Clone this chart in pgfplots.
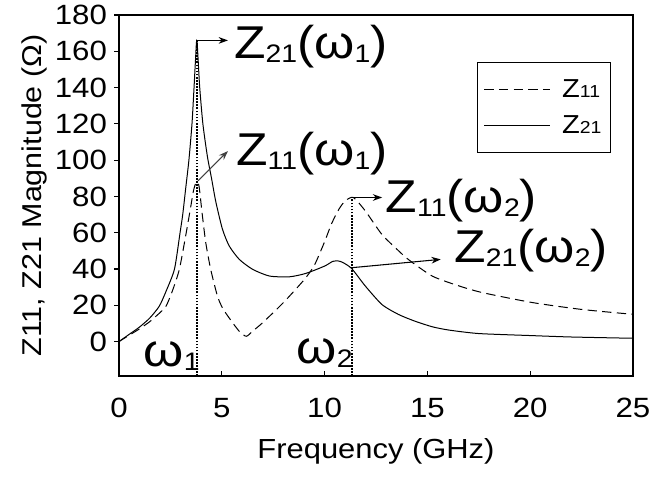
\documentclass[border=0pt]{standalone}
\usepackage{fontspec}
\setmainfont[FakeStretch=1.12]{Liberation Sans}
\usepackage{pgfplots}
\pgfplotsset{compat=1.18}
\usetikzlibrary{arrows.meta}

% annotation text: big letter with a lowered, smaller index
\newcommand\ann[1]{{\fontsize{34.5}{40}\selectfont #1}}
\newcommand\sub[1]{\raisebox{-3pt}{\fontsize{19}{20}\selectfont #1}}
\newcommand\legz[1]{{\fontsize{19.5}{20}\selectfont Z}{\fontsize{13}{14}\selectfont #1}}

\begin{document}
\begin{tikzpicture}
\useasboundingbox (-89.25pt,-77.25pt) rectangle (399pt,282pt);
\begin{axis}[
    at={(0,0)}, anchor=south west,
    scale only axis,
    width=385.5pt, height=270.75pt,
    xmin=0, xmax=25, ymin=-19, ymax=180,
    xtick={0,5,...,25}, ytick={0,20,...,180},
    xtick pos=bottom, ytick pos=left,
    xtick align=inside, ytick align=outside,
    major tick length=3.5pt,
    axis line style={line width=1pt},
    tick style={line width=0.8pt, black},
    ticklabel style={font=\fontsize{20.9}{22}\selectfont},
    /pgf/number format/assume math mode=true,
    xticklabel style={yshift=-13pt},
    yticklabel style={xshift=-2pt},
    xlabel={Frequency (GHz)},
    ylabel={Z11, Z21 Magnitude (Ω)},
    label style={font=\fontsize{20.7}{22}\selectfont},
    ylabel style={font=\fontsize{20.4}{22}\selectfont, at={(axis description cs:-0.165,0.5)}, anchor=center},
    xlabel style={at={(axis description cs:0.5,-0.21)}, anchor=center},
    legend style={at={(rel axis cs:0.958,0.871)}, anchor=north east,
        draw=black, line width=0.8pt, inner xsep=5pt, inner ysep=11pt,
        row sep=8pt, nodes={inner sep=2pt},
        /tikz/every odd column/.append style={column sep=7pt}},
    legend cell align=left,
    legend image code/.code={\draw[#1] (0pt,0pt) -- (49pt,0pt);},
]
% Z11
\addplot[black, line width=0.75pt, dash pattern=on 7pt off 4pt, smooth, tension=0.4] coordinates {
(0,0) (0.5,3.5) (1,7) (1.5,11) (2,16) (2.29,19.5) (2.6,28) (2.94,40) (3.27,60)
(3.5,75) (3.62,83) (3.76,88) (3.89,85.8) (4.05,70) (4.22,54.5) (4.46,39.8)
(4.79,25) (5.06,18) (5.55,10) (5.9,5) (6.2,2.9) (6.5,5.7) (7,10.5) (8,21.5)
(9,34) (9.5,42) (10,55) (10.34,65) (10.7,73) (11,77.5) (11.4,79.4) (11.98,72)
(12.79,59) (13.6,50) (14.1,45) (15.25,36) (16.55,30.6) (17.7,26.9) (20.1,21.5)
(22.5,17.7) (25,15)
};
\addlegendentry{\legz{11}\hspace{5pt}}
% Z21
\addplot[black, line width=0.75pt, smooth, tension=0.4] coordinates {
(0,0) (0.5,4) (1,8) (1.5,13) (1.96,19.5) (2.3,28) (2.7,40) (2.97,60) (3.1,70)
(3.25,85) (3.4,100) (3.55,120) (3.65,140) (3.72,155) (3.79,166) (3.92,141)
(4.08,120) (4.3,102) (4.5,90) (4.71,77) (5.03,62) (5.36,52.7) (5.85,45.3)
(6.5,39.8) (7.32,36.1) (8.3,35.7) (9.1,37.6) (10,41.6) (10.4,44.2) (10.67,44.4)
(10.9,43.5) (11.32,40.2) (11.98,30.6) (12.79,20.4) (13.6,14.9) (14.4,11.2)
(15.25,8.1) (16.06,6.3) (17.5,4.4) (20,3.3) (22,2.5) (25,1.8)
};
\addlegendentry{\legz{21}\hspace{5pt}}
% resonance markers
\addplot[black, densely dotted, line width=1.3pt, forget plot] coordinates {(3.78,-19) (3.78,166)};
\addplot[black, densely dotted, line width=1.3pt, forget plot] coordinates {(11.35,-19) (11.35,79.4)};

\draw[-{Stealth[length=7pt,width=5pt]}, line width=0.8pt] (axis cs:3.79,166) -- (axis cs:5.3,166);
\draw[-{Stealth[length=7pt,width=5pt]}, line width=0.8pt, black!75] (axis cs:3.84,88.6) -- (axis cs:5.3,105);
\draw[-{Stealth[length=7pt,width=5pt]}, line width=0.8pt] (axis cs:11.4,79.4) -- (axis cs:12.8,79.4);
\draw[-{Stealth[length=7pt,width=5pt]}, line width=0.8pt] (axis cs:11.32,40.7) -- (axis cs:15.65,45.3);

\node[anchor=base west, inner sep=0pt] at (axis cs:5.59,155.8) {\ann{Z\sub{21}(ω\sub{1})}};
\node[anchor=base west, inner sep=0pt] at (axis cs:5.69,96.8) {\ann{Z\sub{11}(ω\sub{1})}};
\node[anchor=base west, inner sep=0pt] at (axis cs:12.96,71) {\ann{Z\sub{11}(ω\sub{2})}};
\node[anchor=base west, inner sep=0pt] at (axis cs:16.3,43.5) {\ann{Z\sub{21}(ω\sub{2})}};
\node[anchor=base west, inner sep=0pt] at (axis cs:1.19,-13.6) {\ann{ω\sub{1}}};
\node[anchor=base west, inner sep=0pt] at (axis cs:8.63,-12) {\ann{ω\sub{2}}};
\end{axis}
\end{tikzpicture}
\end{document}
